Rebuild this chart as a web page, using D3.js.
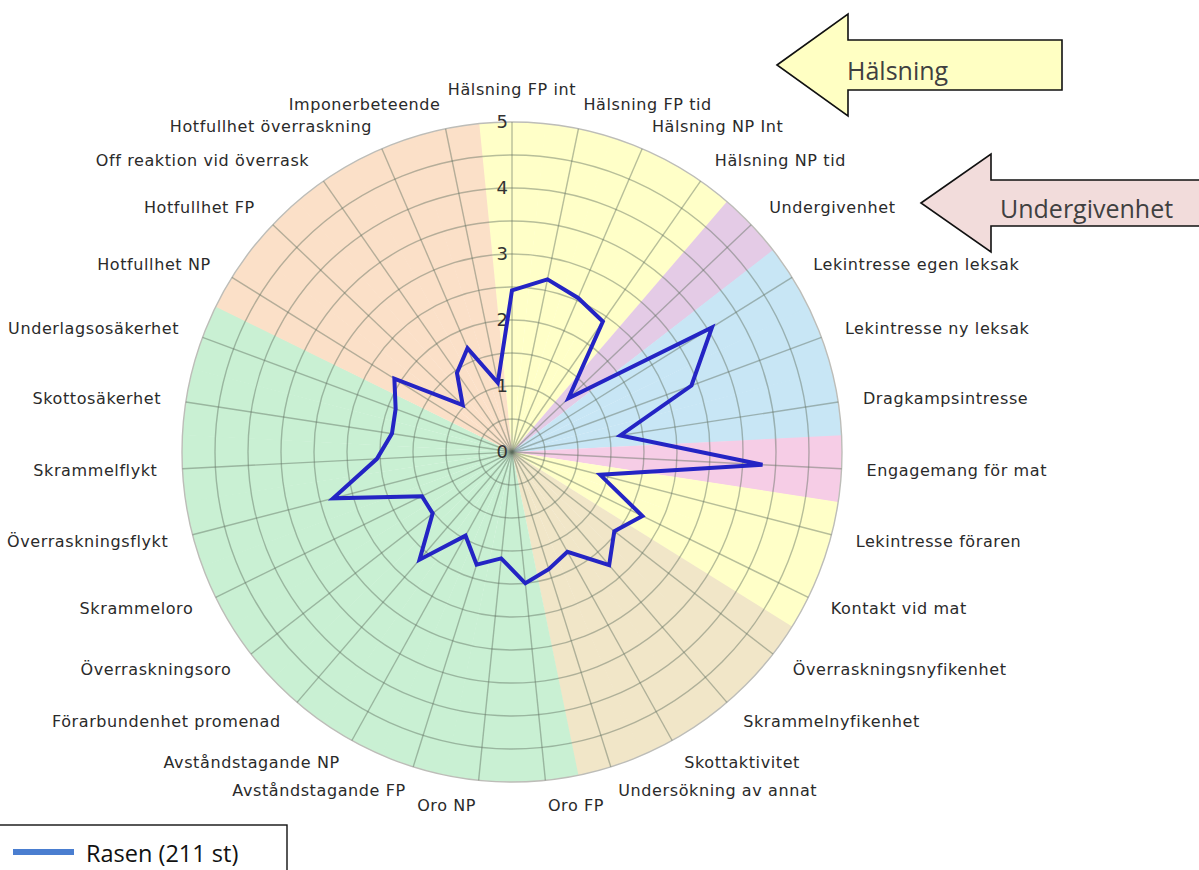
<!DOCTYPE html>
<html>
<head>
<meta charset="utf-8">
<script src="https://cdn.jsdelivr.net/npm/d3@7"></script>
<style>
    body { margin: 0; background: #fff; }
    svg { display: block; }
</style>
</head>
<body>
<div id="radar"></div>
<script>
// categories, clockwise from the top
var categories = [
    "Hälsning FP int", "Hälsning FP tid", "Hälsning NP Int", "Hälsning NP tid",
    "Undergivenhet", "Lekintresse egen leksak", "Lekintresse ny leksak", "Dragkampsintresse",
    "Engagemang för mat", "Lekintresse föraren", "Kontakt vid mat", "Överraskningsnyfikenhet",
    "Skrammelnyfikenhet", "Skottaktivitet", "Undersökning av annat", "Oro FP", "Oro NP",
    "Avståndstagande FP", "Avståndstagande NP", "Förarbundenhet promenad", "Överraskningsoro",
    "Skrammeloro", "Överraskningsflykt", "Skrammelflykt", "Skottosäkerhet", "Underlagsosäkerhet",
    "Hotfullhet NP", "Hotfullhet FP", "Off reaktion vid överrask", "Hotfullhet överraskning",
    "Imponerbeteende"
];

// background group for each category
var groups = [
    "halsning", "halsning", "halsning", "halsning",
    "undergivenhet", "lek", "lek", "lek",
    "mat", "forare", "forare", "nyfikenhet",
    "nyfikenhet", "nyfikenhet", "nyfikenhet", "oro", "oro",
    "oro", "oro", "oro", "oro",
    "oro", "oro", "oro", "oro", "oro",
    "hot", "hot", "hot", "hot",
    "hot"
];

var groupNames = ["halsning", "undergivenhet", "lek", "mat", "forare", "nyfikenhet", "oro", "hot"];
var groupColors = ["#ffffc8", "#e4cbe6", "#c8e6f5", "#f6cde6", "#ffffc8", "#f1e6c8", "#c9f0d3", "#fbe0c8"];

var seriesName = "Rasen (211 st)";
var rasen = [
    2.45, 2.67, 2.54, 2.41,
    1.18, 3.57, 2.90, 1.66,
    3.80, 1.38, 2.20, 1.96,
    2.26, 1.73, 1.86, 2.00, 1.62,
    1.79, 1.45, 2.15, 1.52,
    1.52, 2.80, 2.05, 1.84, 1.88,
    2.10, 1.03, 1.46, 1.71,
    1.07
];

var tickValues = [0, 1, 2, 3, 4, 5];
var gridValues = [0.5, 1, 1.5, 2, 2.5, 3, 3.5, 4, 4.5, 5];

var arrowTexts = ["Hälsning", "Undergivenhet"];

window.onload = () => {

    var w = 1199;
    var h = 870;
    var cx = 512;
    var cy = 452;
    var R = 330;

    var n = categories.length;
    var step = 2 * Math.PI / n;

    var rScale = d3.scaleLinear()
        .domain([0, 5])
        .range([0, R]);

    var angle = (i) => i * step;

    var groupColor = d3.scaleOrdinal()
        .domain(groupNames)
        .range(groupColors);

    var svg = d3.select("#radar")
        .append("svg")
        .attr("width", w)
        .attr("height", h);

    var chart = svg.append("g")
        .attr("transform", `translate(${cx}, ${cy})`);

    // coloured background wedges
    var wedge = d3.arc()
        .innerRadius(0)
        .outerRadius(R)
        .startAngle((d, i) => angle(i) - step / 2)
        .endAngle((d, i) => angle(i) + step / 2 + 0.002);

    chart.selectAll(".wedge")
        .data(categories)
        .enter()
        .append("path")
        .attr("class", "wedge")
        .attr("fill", (d, i) => groupColor(groups[i]))
        .attr("d", wedge);

    // grid circles
    chart.selectAll(".ring")
        .data(gridValues)
        .enter()
        .append("circle")
        .attr("class", "ring")
        .attr("r", (d) => rScale(d))
        .attr("fill", "none")
        .attr("stroke", (d) => d === 5 ? "#bdbdb8" : "rgba(95,110,95,0.45)")
        .attr("stroke-width", 1.4);

    // spokes
    chart.selectAll(".spoke")
        .data(categories)
        .enter()
        .append("line")
        .attr("class", "spoke")
        .attr("x1", 0)
        .attr("y1", 0)
        .attr("x2", (d, i) => rScale(5) * Math.sin(angle(i)))
        .attr("y2", (d, i) => -rScale(5) * Math.cos(angle(i)))
        .attr("stroke", "rgba(95,110,95,0.45)")
        .attr("stroke-width", 1.4);

    // tick labels on the top spoke
    chart.selectAll(".tick")
        .data(tickValues)
        .enter()
        .append("text")
        .attr("class", "tick")
        .attr("x", -4)
        .attr("y", (d) => -rScale(d))
        .attr("dy", "0.36em")
        .attr("text-anchor", "end")
        .attr("font-family", "DejaVu Sans, sans-serif")
        .attr("font-size", 18)
        .attr("fill", "#333")
        .text((d) => d);

    // data line
    var line = d3.lineRadial()
        .angle((d, i) => angle(i))
        .radius((d) => rScale(d))
        .curve(d3.curveLinearClosed);

    chart.append("path")
        .datum(rasen)
        .attr("fill", "none")
        .attr("stroke", "#2424c4")
        .attr("stroke-width", 4)
        .attr("stroke-linejoin", "miter")
        .attr("d", line);

    // category labels
    var labelR = R + 25;

    chart.selectAll(".label")
        .data(categories)
        .enter()
        .append("text")
        .attr("class", "label")
        .attr("x", (d, i) => labelR * Math.sin(angle(i)))
        .attr("y", (d, i) => {
            var y = -labelR * Math.cos(angle(i));
            return Math.abs(Math.sin(angle(i))) < 0.05 ? y - 2 : y;
        })
        .attr("dy", (d, i) => Math.abs(Math.sin(angle(i))) < 0.05 ? "0em" : "0.36em")
        .attr("text-anchor", (d, i) => {
            var s = Math.sin(angle(i));
            if (Math.abs(s) < 0.05) return "middle";
            return s > 0 ? "start" : "end";
        })
        .attr("font-family", "DejaVu Sans, sans-serif")
        .attr("font-size", 16)
        .attr("letter-spacing", 0.6)
        .attr("fill", "#2a2a2a")
        .text((d) => d);

    // arrows pointing at the groups
    var arrowPath = (tipX, tipY, headX, headHalf, shaftHalf, endX) => {
        var p = d3.path();
        p.moveTo(tipX, tipY);
        p.lineTo(headX, tipY - headHalf);
        p.lineTo(headX, tipY - shaftHalf);
        p.lineTo(endX, tipY - shaftHalf);
        p.lineTo(endX, tipY + shaftHalf);
        p.lineTo(headX, tipY + shaftHalf);
        p.lineTo(headX, tipY + headHalf);
        p.closePath();
        return p.toString();
    };

    svg.append("path")
        .attr("d", arrowPath(777, 65, 848, 51, 25, 1062))
        .attr("fill", "#ffffc3")
        .attr("stroke", "#111")
        .attr("stroke-width", 1.6);

    svg.append("text")
        .attr("x", 847)
        .attr("y", 80)
        .attr("font-family", "Open Sans, sans-serif")
        .attr("font-size", 25)
        .attr("fill", "#404040")
        .text(arrowTexts[0]);

    svg.append("path")
        .attr("d", arrowPath(921, 203, 991, 49, 23, 1210))
        .attr("fill", "#f2dcdb")
        .attr("stroke", "#111")
        .attr("stroke-width", 1.6);

    svg.append("text")
        .attr("x", 1000)
        .attr("y", 218)
        .attr("font-family", "Open Sans, sans-serif")
        .attr("font-size", 25)
        .attr("fill", "#404040")
        .text(arrowTexts[1]);

    // legend
    var legend = svg.append("g");

    legend.append("rect")
        .attr("x", -2)
        .attr("y", 825)
        .attr("width", 289)
        .attr("height", 60)
        .attr("fill", "#fff")
        .attr("stroke", "#111")
        .attr("stroke-width", 1.4);

    legend.append("line")
        .attr("x1", 13)
        .attr("x2", 74)
        .attr("y1", 852)
        .attr("y2", 852)
        .attr("stroke", "#4a7ed0")
        .attr("stroke-width", 6);

    legend.append("text")
        .attr("x", 86)
        .attr("y", 862)
        .attr("font-family", "Open Sans, sans-serif")
        .attr("font-size", 23.5)
        .attr("fill", "#111")
        .text(seriesName);
}
</script>
</body>
</html>
